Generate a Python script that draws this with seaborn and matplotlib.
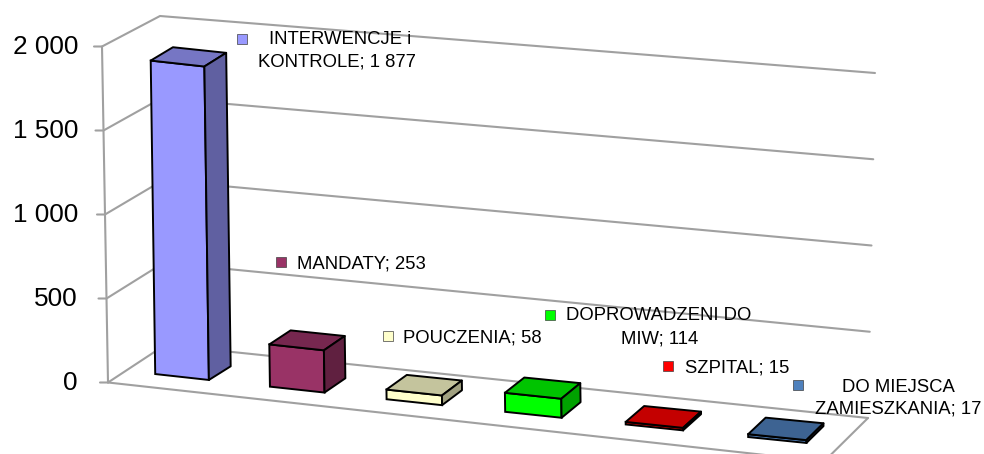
#!/usr/bin/env python3
"""Excel style 3-D column chart, drawn with seaborn through an oblique projection."""

import numpy as np
import seaborn as sns
import matplotlib.pyplot as plt
from matplotlib.colors import to_rgb
from matplotlib.transforms import Transform

# —— DATA —— #
CATEGORIES = ['INTERWENCJE i KONTROLE', 'MANDATY', 'POUCZENIA',
              'DOPROWADZENI DO MIW', 'SZPITAL', 'DO MIEJSCA ZAMIESZKANIA']
VALUES = [1877, 253, 58, 114, 15, 17]
COLORS = ['#9999FF', '#993366', '#FFFFCC', '#00FF00', '#FF0000', '#4F81BD']
TICKS = [0, 500, 1000, 1500, 2000]
TICK_LABELS = ['0', '500', '1 000', '1 500', '2 000']

# —— CONFIGURATION —— #
WIDTH, HEIGHT = 984, 454
BAR_WIDTH = 0.47
GRID = '#A0A0A0'
GRID_LW = 1.5
EDGE_LW = 1.4
TOP_SHADE = 0.77
SIDE_SHADE = 0.63


def project(u, v, d=0.0):
    """Category position u, value v, depth d (0 front, 1 back) -> picture pixels."""
    u, v = np.asarray(u, float), np.asarray(v, float)
    px = 182 + 114.2 * u + 0.97 * u ** 2 - 0.0024 * v + d * (22 - 0.94 * u)
    py = 377 + 12.6 * u - 0.167 * v + d * (-13.5 - 0.64 * u)
    return px, py


class Oblique(Transform):
    input_dims = 2
    output_dims = 2

    def transform_non_affine(self, values):
        px, py = project(values[:, 0], values[:, 1])
        return np.column_stack([px, py])


def shade(color, factor):
    return tuple(c * factor for c in to_rgb(color))


def draw_walls(ax):
    for value, label in zip(TICKS, TICK_LABELS):
        fx = 108 - 0.003 * value
        fy = 382.5 - 0.168 * value
        bx = 165 - 0.0025 * value
        by = 345 - 0.1645 * value
        ex = 868 + 0.0035 * value
        ey = 418 - 0.1725 * value
        ax.plot([fx - 8, fx, bx, ex], [fy, fy, by, ey], color=GRID, lw=GRID_LW,
                zorder=1, solid_joinstyle='round')
        ax.text(78, fy + 1, label, ha='right', va='center', fontsize=18.8, zorder=6)

    # left edge of the side wall and the floor outline
    ax.plot([102, 108], [46.5, 382.5], color=GRID, lw=GRID_LW, zorder=1)
    ax.plot([108, 824, 868], [382.5, 461.5, 418], color=GRID, lw=GRID_LW, zorder=1)


def draw_bars(ax):
    sns.barplot(x=CATEGORIES, y=VALUES, hue=CATEGORIES, order=CATEGORIES,
                hue_order=CATEGORIES, palette=COLORS, width=BAR_WIDTH, dodge=False,
                saturation=1, edgecolor='black', linewidth=EDGE_LW, legend=False, ax=ax)
    oblique = Oblique() + ax.transData
    for i, (patch, value, color) in enumerate(zip(ax.patches, VALUES, COLORS)):
        patch.set_transform(oblique)
        patch.set_zorder(3)

        left, right = i - BAR_WIDTH / 2, i + BAR_WIDTH / 2
        top = [project(left, value), project(right, value),
               project(right, value, 1), project(left, value, 1)]
        side = [project(right, 0), project(right, value),
                project(right, value, 1), project(right, 0, 1)]
        ax.fill(*zip(*top), facecolor=shade(color, TOP_SHADE), edgecolor='black',
                lw=EDGE_LW, zorder=3, joinstyle='round')
        ax.fill(*zip(*side), facecolor=shade(color, SIDE_SHADE), edgecolor='black',
                lw=EDGE_LW, zorder=3, joinstyle='round')


def draw_labels(ax):
    keys = [(242, 38.5), (281, 262), (388, 336), (550, 315), (668, 366), (798, 385)]
    for (x, y), color in zip(keys, COLORS):
        ax.plot([x], [y], marker='s', ms=7, mfc=color, mec='#404040', mew=0.5, zorder=6)

    opts = dict(va='center', fontsize=13.3, zorder=6)
    ax.text(340, 39, 'INTERWENCJE i', ha='center', **opts)
    ax.text(337, 62, 'KONTROLE; 1 877', ha='center', **opts)
    ax.text(297, 264, 'MANDATY; 253', ha='left', **opts)
    ax.text(403, 338, 'POUCZENIA; 58', ha='left', **opts)
    ax.text(566, 316, 'DOPROWADZENI DO', ha='left', **opts)
    ax.text(660, 339, 'MIW; 114', ha='center', **opts)
    ax.text(685, 368, 'SZPITAL; 15', ha='left', **opts)
    ax.text(898, 388, 'DO MIEJSCA', ha='center', **opts)
    ax.text(898, 409, 'ZAMIESZKANIA; 17', ha='center', **opts)


def main():
    sns.set_theme(style='white')
    plt.rcParams['font.family'] = ['Liberation Sans', 'DejaVu Sans']
    plt.rcParams['text.color'] = 'black'

    fig = plt.figure(figsize=(WIDTH / 100, HEIGHT / 100), dpi=100)
    ax = fig.add_axes([0, 0, 1, 1])

    draw_bars(ax)
    draw_walls(ax)
    draw_labels(ax)

    # the axes is the picture itself, one unit per pixel
    ax.set_xlim(0, WIDTH)
    ax.set_ylim(HEIGHT, 0)
    ax.axis('off')

    fig.savefig('out.png', dpi=100)
    plt.close(fig)


if __name__ == '__main__':
    main()
